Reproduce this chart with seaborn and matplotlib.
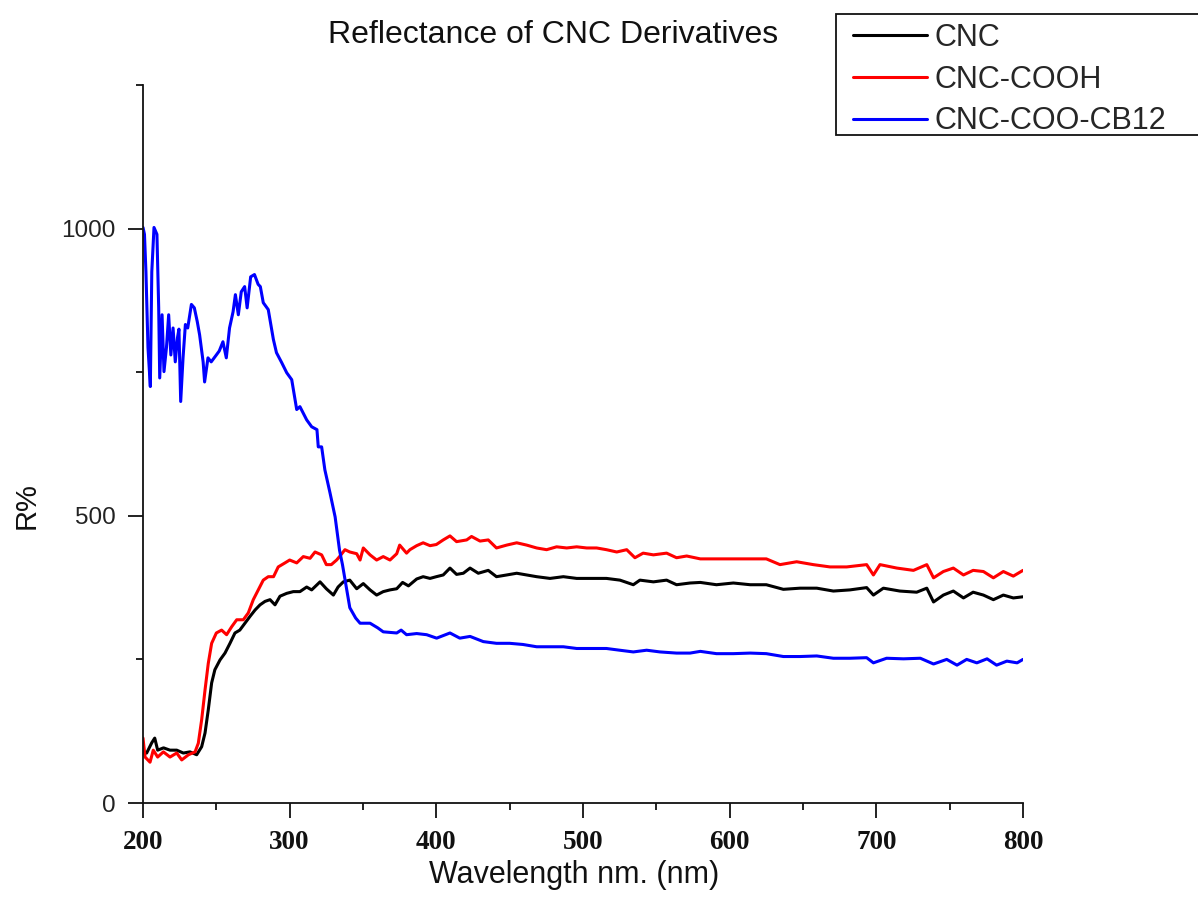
import numpy as np
import pandas as pd
import matplotlib
matplotlib.use("Agg")
import matplotlib.pyplot as plt
from matplotlib.ticker import MultipleLocator
from matplotlib.patches import Rectangle
import seaborn as sns

# ---- data ----
series_names = ["CNC", "CNC-COOH", "CNC-COO-CB12"]
series_colors = ["black", "red", "blue"]

cnc_wl = [200, 202.5, 206, 208, 210, 214, 218.4, 223, 227.5, 232, 236.6, 240, 242.3, 244.5,
          246.8, 249, 252.5, 255.9, 259.3, 262.7, 266, 269.5, 273, 276.4, 279.8, 283.2, 286.6,
          290, 293.4, 298, 302.5, 307, 311.6, 315, 320.7, 325, 329.8, 333, 336.6, 341, 345.7,
          350.2, 354.8, 359.3, 363.8, 368.4, 373, 377, 381, 386.6, 391, 395.7, 400, 404.7,
          409.3, 413.8, 418.4, 423, 428.6, 435.4, 441, 448, 454.8, 461.6, 468.4, 477.5, 486.6,
          495.7, 504.8, 516, 525.2, 534.3, 538.8, 548, 557, 563.8, 573, 580, 591, 602.5, 614,
          625, 636.6, 648, 659.4, 670.7, 682, 693.4, 698, 704.8, 716, 727.5, 734.4, 739, 745.7,
          752.5, 759.4, 766, 773, 779.8, 786.6, 793.4, 800]
cnc_r = [87, 87, 105, 113, 92, 96, 92, 92, 87, 89, 84, 98, 122, 162,
         209, 232, 249, 261, 278, 296, 301, 313, 325, 336, 345, 351, 354,
         345, 360, 365, 368, 368, 376, 371, 385, 373, 362, 376, 385, 388, 373,
         382, 371, 362, 368, 371, 373, 384, 378, 390, 394, 391, 394, 397,
         409, 398, 400, 409, 400, 405, 394, 397, 400, 397, 394, 391, 394,
         391, 391, 391, 388, 380, 388, 385, 388, 380, 383, 384, 380, 383, 380,
         380, 372, 374, 374, 369, 371, 375, 362, 374, 369, 367, 374, 350, 362,
         369, 357, 367, 362, 354, 362, 357, 359]

cooh_wl = [200, 201.4, 204.8, 207, 210, 213.9, 218.4, 223, 226.4, 231, 235.5, 237.7, 240,
           242.3, 244.5, 246.8, 250, 253.6, 257, 260.5, 263.9, 268.4, 271.8, 275.2, 278.6,
           282, 285.4, 289, 292.2, 296.8, 300, 304.8, 309.3, 313.9, 317.3, 321.8, 325, 328.4,
           332, 334, 337.7, 341, 345.7, 348, 350.2, 354.8, 359.3, 363.8, 368.4, 373, 375,
           379.7, 382, 386.6, 391, 395.7, 400, 404.7, 409.3, 413.8, 420.7, 424, 429.8, 435.4,
           441, 448, 454.8, 461.6, 468.4, 475.2, 482, 488.9, 495.7, 502.5, 509.3, 516, 523,
           529.8, 535.4, 541, 548, 557, 563.8, 570.7, 580, 591, 602.5, 614, 625, 634.3, 645.7,
           657, 668.4, 679.8, 693.4, 698, 702.5, 714, 725.3, 734.4, 739, 745.7, 752.5, 759.4,
           766, 773, 779.8, 786.6, 793.4, 800]
cooh_r = [113, 80, 71, 92, 80, 89, 80, 87, 75, 84, 89, 104, 145,
          197, 243, 278, 296, 301, 293, 307, 319, 319, 331, 354, 371,
          388, 394, 394, 411, 418, 423, 418, 429, 426, 437, 432, 415, 415,
          423, 429, 441, 437, 434, 423, 444, 432, 423, 429, 423, 434, 449,
          435, 441, 448, 453, 448, 450, 458, 465, 455, 458, 464, 456, 458,
          444, 449, 453, 449, 444, 441, 446, 444, 446, 444, 444, 441, 437,
          441, 427, 435, 432, 435, 427, 430, 425, 425, 425, 425, 425, 415, 420,
          415, 411, 411, 415, 397, 415, 409, 405, 415, 392, 403, 409, 397,
          405, 403, 392, 403, 395, 405]

cb12_wl = [200, 201, 202, 203.4, 205, 206, 207.5, 209.5, 210.7, 211.4, 213, 214.3, 216, 217.5,
           219, 220.5, 222, 223.5, 224.5, 225.7, 227.3, 228.9, 230.5, 233, 235, 237, 238.6, 241,
           242, 244.3, 246.5, 250, 252, 254.5, 256.8, 259, 261.4, 263, 265, 267, 269.3, 271,
           273.4, 276, 278.5, 280, 282, 285.4, 288.9, 291, 294.5, 298, 301.4, 304.8, 307, 311.6,
           315, 318.6, 319.5, 321.8, 324, 327.5, 331, 334, 336, 338, 341, 345, 348, 354.8, 360,
           363.8, 373, 376, 379.7, 386.6, 393.4, 400.2, 409.3, 416, 423, 432, 441, 450, 459,
           468.4, 477.5, 486.6, 495.7, 504.8, 516, 525, 534.3, 543.4, 552.5, 563.8, 573, 580,
           591, 602.5, 614, 625, 636.6, 648, 659.4, 670.7, 682, 693.4, 698, 707, 718.5, 730,
           739, 748, 755, 761.6, 768.5, 775.5, 782, 789, 796, 800]
cb12_r = [1002, 990, 925, 793, 725, 925, 1002, 990, 862, 740, 850, 751, 793, 850,
          780, 827, 768, 810, 825, 699, 775, 833, 827, 868, 862, 838, 815, 768,
          733, 775, 768, 780, 787, 803, 775, 827, 855, 885, 850, 890, 899, 862,
          916, 920, 903, 899, 871, 859, 807, 784, 767, 749, 737, 685, 690, 667,
          655, 650, 620, 620, 580, 540, 498, 440, 415, 385, 340, 322, 313, 313, 305,
          298, 296, 301, 293, 295, 293, 287, 296, 287, 290, 281, 278, 278, 276,
          272, 272, 272, 269, 269, 269, 266, 263, 266, 263, 261, 261, 264,
          260, 260, 261, 260, 255, 255, 256, 252, 252, 253, 244, 252, 251, 252,
          242, 250, 240, 250, 244, 251, 240, 247, 244, 250]

x_major_ticks = [200, 300, 400, 500, 600, 700, 800]
y_major_ticks = [0, 500, 1000]

# ---- build long-form table ----
frames = []
for name, wl, r in zip(series_names, [cnc_wl, cooh_wl, cb12_wl], [cnc_r, cooh_r, cb12_r]):
    frames.append(pd.DataFrame({"Wavelength": wl, "R": r, "Sample": name}))
df = pd.concat(frames, ignore_index=True)

sns.set_style("ticks")
plt.rcParams["font.family"] = ["Liberation Sans", "DejaVu Sans"]

W, H = 1198, 907
fig = plt.figure(figsize=(W / 100, H / 100), dpi=100)
ax = fig.add_axes([143 / W, 1 - 803 / H, 880 / W, 718 / H])

sns.lineplot(data=df, x="Wavelength", y="R", hue="Sample", hue_order=series_names,
             palette=dict(zip(series_names, series_colors)), estimator=None,
             linewidth=2.2, ax=ax)

ax.set_xlim(200, 800)
ax.set_ylim(0, 1250)
ax.set_xticks(x_major_ticks)
ax.set_yticks(y_major_ticks)
ax.xaxis.set_minor_locator(MultipleLocator(50))
ax.yaxis.set_minor_locator(MultipleLocator(250))

for s in ["top", "right"]:
    ax.spines[s].set_visible(False)
for s in ["left", "bottom"]:
    ax.spines[s].set_linewidth(1.3)
    ax.spines[s].set_color("#111111")

ax.tick_params(axis="both", which="major", direction="out", length=10.5, width=1.3,
               color="#111111", pad=9)
ax.tick_params(axis="both", which="minor", direction="out", length=5, width=1.3,
               color="#111111")
for lab in ax.get_xticklabels():
    lab.set_fontfamily(["Liberation Serif", "DejaVu Serif"])
    lab.set_fontweight("bold")
    lab.set_fontsize(19.5)
    lab.set_color("#111111")
for lab in ax.get_yticklabels():
    lab.set_fontsize(17.5)
    lab.set_color("#222222")

ax.set_xlabel("Wavelength nm. (nm)", fontsize=22, color="#111111")
ax.xaxis.set_label_coords((574 - 143) / 880, (803 - 860) / 718)
ax.set_ylabel("R%", fontsize=21, color="#111111")
ax.yaxis.set_label_coords((41 - 143) / 880, (803 - 506) / 718)

fig.text(553 / W, 1 - 43 / H, "Reflectance of CNC Derivatives", fontsize=23,
         ha="center", va="baseline", color="#111111")

# legend frame (runs off the right edge as in the reference)
fig.add_artist(Rectangle((836 / W, 1 - 135 / H), (1215 - 836) / W, 121 / H,
                         transform=fig.transFigure, facecolor="white",
                         edgecolor="#111111", linewidth=1.3, zorder=5))

handles, labels = ax.get_legend_handles_labels()
if ax.get_legend() is not None:
    ax.get_legend().remove()
leg = fig.legend(handles, labels, loc="upper left", bbox_to_anchor=(853 / W, 1 - 23 / H),
                 bbox_transform=fig.transFigure, fontsize=22, frameon=False,
                 borderaxespad=0, borderpad=0, handlelength=2.42, handletextpad=0.26,
                 labelspacing=0.38)
leg.set_zorder(6)
for line in leg.get_lines():
    line.set_linewidth(2.2)

fig.savefig("out.png", dpi=100)
